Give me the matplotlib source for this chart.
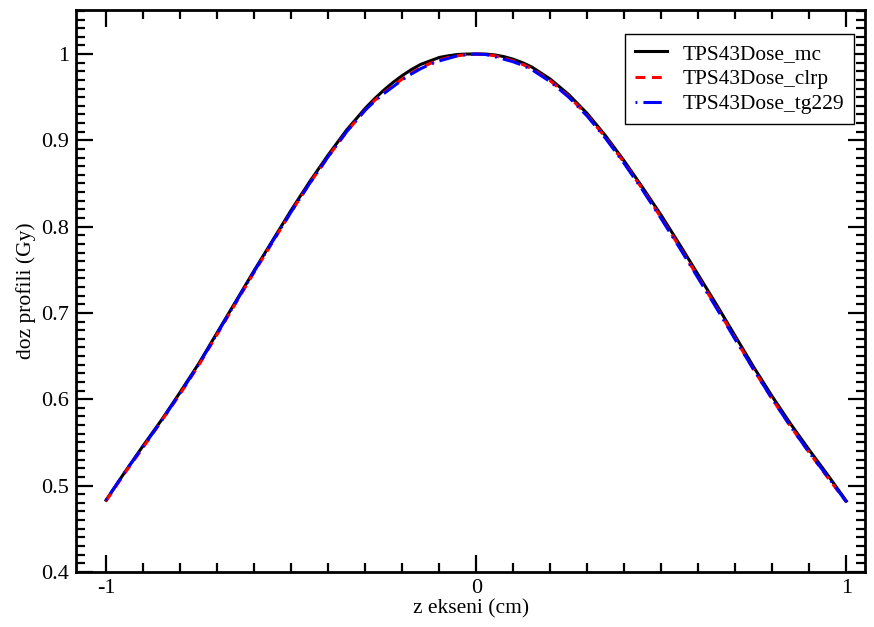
import numpy as np
from matplotlib import pyplot as plt
from matplotlib.ticker import MultipleLocator, FuncFormatter

# z positions (cm) and dose profiles
z = [-1.0, -0.95, -0.9, -0.85, -0.8, -0.75, -0.7, -0.65, -0.6, -0.55, -0.5,
     -0.45, -0.4, -0.35, -0.3, -0.275, -0.25, -0.225, -0.2, -0.175, -0.15,
     -0.125, -0.1, -0.075, -0.05, -0.025, 0.0, 0.025, 0.05, 0.075, 0.1,
     0.125, 0.15, 0.175, 0.2, 0.225, 0.25, 0.275, 0.3, 0.35, 0.4,
     0.45, 0.5, 0.55, 0.6, 0.65, 0.7, 0.75, 0.8, 0.85, 0.9, 0.95, 1.0]

dose_mc = [0.483, 0.515, 0.546, 0.576, 0.608, 0.641, 0.677, 0.713, 0.749, 0.784, 0.819,
           0.852, 0.883, 0.912, 0.937, 0.948, 0.958, 0.967, 0.975, 0.982, 0.988,
           0.992, 0.996, 0.998, 0.9995, 1.000, 1.000, 1.000, 0.999, 0.997, 0.994,
           0.990, 0.985, 0.978, 0.971, 0.962, 0.953, 0.942, 0.931, 0.905, 0.876,
           0.845, 0.813, 0.779, 0.744, 0.709, 0.673, 0.637, 0.603, 0.571, 0.541, 0.512, 0.482]

dose_clrp = [0.482, 0.514, 0.544, 0.575, 0.606, 0.639, 0.675, 0.711, 0.747, 0.782, 0.817,
             0.850, 0.881, 0.910, 0.935, 0.946, 0.955, 0.963, 0.971, 0.978, 0.984,
             0.989, 0.993, 0.996, 0.998, 0.9995, 1.000, 0.9995, 0.998, 0.995, 0.992,
             0.988, 0.983, 0.976, 0.969, 0.960, 0.951, 0.940, 0.929, 0.903, 0.874,
             0.843, 0.810, 0.776, 0.741, 0.706, 0.670, 0.634, 0.600, 0.568, 0.538, 0.509, 0.481]

dose_tg229 = [0.483, 0.515, 0.545, 0.575, 0.607, 0.640, 0.676, 0.712, 0.748, 0.783, 0.817,
              0.850, 0.881, 0.910, 0.935, 0.945, 0.954, 0.962, 0.970, 0.977, 0.983,
              0.988, 0.992, 0.995, 0.998, 0.9995, 1.000, 0.9995, 0.997, 0.994, 0.991,
              0.987, 0.982, 0.975, 0.968, 0.959, 0.950, 0.939, 0.928, 0.902, 0.873,
              0.842, 0.809, 0.775, 0.740, 0.705, 0.669, 0.634, 0.600, 0.568, 0.538, 0.510, 0.481]

plt.rcParams['font.family'] = ['Liberation Serif', 'DejaVu Serif']

fig = plt.figure(figsize=(8.74, 6.27), dpi=100)
ax = fig.add_axes([0.087, 0.088, 0.903, 0.896])

ax.plot(z, dose_mc, color='black', lw=2.2, label='TPS43Dose_mc')
ax.plot(z, dose_clrp, color='red', lw=2.2, ls=(0, (3.2, 2.2)), label='TPS43Dose_clrp')
ax.plot(z, dose_tg229, color='blue', lw=2.2, ls=(0, (0.6, 2, 6, 2)), label='TPS43Dose_tg229')

ax.set_xlim(-1.081, 1.051)
ax.set_ylim(0.4, 1.051)

ax.xaxis.set_major_locator(MultipleLocator(1))
ax.xaxis.set_minor_locator(MultipleLocator(0.1))
ax.yaxis.set_major_locator(MultipleLocator(0.1))
ax.yaxis.set_minor_locator(MultipleLocator(0.01))

def fmt(v, pos):
    s = ('%.1f' % v).rstrip('0').rstrip('.')
    if s == '-0':
        s = '0'
    return s

ax.xaxis.set_major_formatter(FuncFormatter(fmt))
ax.yaxis.set_major_formatter(FuncFormatter(fmt))

ax.tick_params(which='both', direction='in', top=True, right=True, width=1.6, labelsize=16)
ax.tick_params(which='major', length=12, pad=5)
ax.tick_params(which='minor', length=6.5)
for sp in ax.spines.values():
    sp.set_linewidth(2)

ax.set_xlabel('z ekseni (cm)', fontsize=15.5, labelpad=1)
ax.set_ylabel('doz profili (Gy)', fontsize=15.5, labelpad=4)

leg = ax.legend(loc='upper right', bbox_to_anchor=(0.986, 0.957), borderaxespad=0,
                fontsize=15.4, fancybox=False, framealpha=1, edgecolor='black',
                handlelength=1.5, borderpad=0.45, labelspacing=0.25, handletextpad=0.75)
leg.get_frame().set_linewidth(1)

fig.savefig('out.png', dpi=100)
